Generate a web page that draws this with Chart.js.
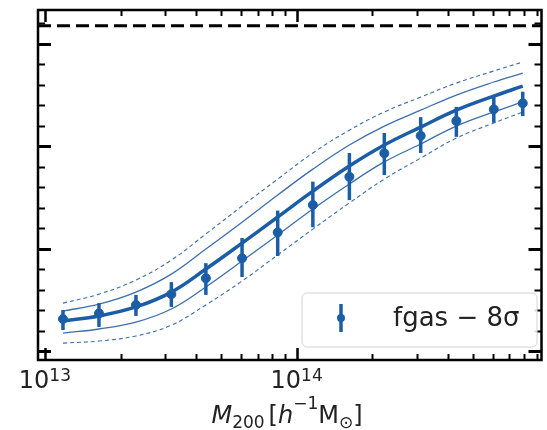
<!DOCTYPE html>
<html>
<head>
<meta charset="utf-8">
<script src="https://cdn.jsdelivr.net/npm/chart.js@4.4.1/dist/chart.umd.min.js"></script>
<style>
  html, body { margin: 0; padding: 0; background: #fff; }
  #wrap { width: 547px; height: 430px; }
</style>
</head>
<body>
<div id="wrap"><canvas id="fgasChart" width="547" height="430"></canvas></div>
<script>
// halo mass bins [h^-1 Msun]
const massBins = [1.18e13, 1.64e13, 2.30e13, 3.18e13, 4.36e13, 6.07e13, 8.41e13,
                  1.16e14, 1.62e14, 2.23e14, 3.11e14, 4.31e14, 6.07e14, 7.91e14];
// measured points with error bars
const fgasPoints  = [0.0525, 0.0547, 0.0580, 0.0622, 0.0684, 0.0762, 0.0863, 0.0970, 0.1080, 0.1172, 0.1240, 0.1298, 0.1343, 0.1367];
const fgasErrHigh = [0.0560, 0.0587, 0.0619, 0.0669, 0.0743, 0.0841, 0.0948, 0.1061, 0.1173, 0.1251, 0.1313, 0.1353, 0.1395, 0.1412];
const fgasErrLow  = [0.0482, 0.0494, 0.0537, 0.0572, 0.0619, 0.0689, 0.0771, 0.0883, 0.0989, 0.1087, 0.1173, 0.1236, 0.1291, 0.1317];
// model curves
const modelMean   = [0.0517, 0.0537, 0.0572, 0.0630, 0.0720, 0.0821, 0.0923, 0.1024, 0.1122, 0.1204, 0.1274, 0.1340, 0.1395, 0.1434];
const model1sUp   = [0.0556, 0.0583, 0.0630, 0.0700, 0.0798, 0.0903, 0.1009, 0.1110, 0.1204, 0.1278, 0.1340, 0.1399, 0.1450, 0.1485];
const model1sLow  = [0.0470, 0.0486, 0.0513, 0.0564, 0.0650, 0.0751, 0.0853, 0.0954, 0.1052, 0.1138, 0.1208, 0.1278, 0.1333, 0.1372];
const model2sUp   = [0.0587, 0.0622, 0.0677, 0.0755, 0.0857, 0.0966, 0.1071, 0.1173, 0.1262, 0.1333, 0.1391, 0.1446, 0.1493, 0.1528];
const model2sLow  = [0.0431, 0.0439, 0.0459, 0.0501, 0.0580, 0.0673, 0.0775, 0.0876, 0.0978, 0.1071, 0.1153, 0.1231, 0.1290, 0.1333];
const baryonFraction = 0.167;

// axes
const xRange = [9.39e12, 9.39e14];
const yRange = [0.0365, 0.1731];
const xMajorTicks = [1e13, 1e14];
const xTickExponents = ['13', '14'];
const yMajorTicks = [0.04, 0.08, 0.12, 0.16];
const yMinorStep = 0.008;
const legendLabel = 'fgas \u2212 8\u03c3';

const BLUE = '#1b5ea7';
const THIN = '#3c6fae';
const FONT = '"DejaVu Sans", sans-serif';

function pairs(ys) {
    return massBins.map((m, i) => ({ x: m, y: ys[i] }));
}

function curve(ys, width, color, dash) {
    return {
        type: 'line',
        data: pairs(ys),
        borderColor: color,
        borderWidth: width,
        borderDash: dash || [],
        pointRadius: 0,
        fill: false,
        tension: 0.4,
        order: 2
    };
}

const errorBars = {
    id: 'errorBars',
    afterDatasetsDraw(chart) {
        const ctx = chart.ctx;
        const xs = chart.scales.x, ys = chart.scales.y;
        ctx.save();
        ctx.strokeStyle = BLUE;
        ctx.lineWidth = 3.5;
        massBins.forEach((m, i) => {
            const px = xs.getPixelForValue(m);
            ctx.beginPath();
            ctx.moveTo(px, ys.getPixelForValue(fgasErrLow[i]));
            ctx.lineTo(px, ys.getPixelForValue(fgasErrHigh[i]));
            ctx.stroke();
        });
        ctx.restore();
    }
};

function drawPower(ctx, cx, baseY, exp) {
    ctx.font = '24px ' + FONT;
    const w1 = ctx.measureText('10').width;
    ctx.font = '17px ' + FONT;
    const w2 = ctx.measureText(exp).width;
    const x0 = cx - (w1 + w2) / 2;
    ctx.textAlign = 'left';
    ctx.textBaseline = 'alphabetic';
    ctx.font = '24px ' + FONT;
    ctx.fillText('10', x0, baseY);
    ctx.font = '17px ' + FONT;
    ctx.fillText(exp, x0 + w1, baseY - 7);
}

function drawTitle(ctx, cx, baseY) {
    const parts = [
        { t: 'M', f: 'italic 24px ' + FONT, dy: 0 },
        { t: '200', f: '17px ' + FONT, dy: 5 },
        { t: '', f: '24px ' + FONT, dy: 0, gap: 4 },
        { t: '[', f: '24px ' + FONT, dy: 0 },
        { t: 'h', f: 'italic 24px ' + FONT, dy: 0 },
        { t: '\u22121', f: '17px ' + FONT, dy: -14 },
        { t: 'M', f: '24px ' + FONT, dy: 0 },
        { t: '\u2299', f: '17px ' + FONT, dy: 5 },
        { t: ']', f: '24px ' + FONT, dy: 0 }
    ];
    let total = 0;
    parts.forEach(p => {
        ctx.font = p.f;
        p.w = ctx.measureText(p.t).width + (p.gap || 0);
        total += p.w;
    });
    let x = cx - total / 2;
    ctx.textAlign = 'left';
    ctx.textBaseline = 'alphabetic';
    parts.forEach(p => {
        ctx.font = p.f;
        ctx.fillText(p.t, x, baseY + p.dy);
        x += p.w;
    });
}

const frame = {
    id: 'frame',
    afterDraw(chart) {
        const ctx = chart.ctx;
        const a = chart.chartArea;
        const xs = chart.scales.x, ys = chart.scales.y;
        ctx.save();
        ctx.strokeStyle = '#000';
        ctx.fillStyle = '#000';

        // x ticks, top and bottom, pointing in
        const xTicks = [];
        for (let d = 12; d <= 14; d++) {
            for (let k = 1; k <= 9; k++) {
                const v = k * Math.pow(10, d);
                if (v >= xRange[0] && v <= xRange[1]) xTicks.push({ v, major: k === 1 });
            }
        }
        xTicks.forEach(t => {
            const px = Math.round(xs.getPixelForValue(t.v)) + 0.5;
            const len = t.major ? 12 : 6;
            ctx.lineWidth = t.major ? 2.5 : 2;
            ctx.beginPath();
            ctx.moveTo(px, a.bottom); ctx.lineTo(px, a.bottom - len);
            ctx.moveTo(px, a.top); ctx.lineTo(px, a.top + len);
            ctx.stroke();
        });

        // y ticks, left and right
        const y0 = Math.ceil(yRange[0] / yMinorStep) * yMinorStep;
        for (let v = y0; v <= yRange[1] + 1e-9; v += yMinorStep) {
            const major = yMajorTicks.some(m => Math.abs(m - v) < 1e-6);
            const py = Math.round(ys.getPixelForValue(v)) + 0.5;
            const len = major ? 13 : 7;
            ctx.lineWidth = major ? 3 : 2;
            ctx.beginPath();
            ctx.moveTo(a.left, py); ctx.lineTo(a.left + len, py);
            ctx.moveTo(a.right, py); ctx.lineTo(a.right - len, py);
            ctx.stroke();
        }

        // spines
        ctx.lineWidth = 2.5;
        ctx.strokeRect(a.left, a.top, a.right - a.left, a.bottom - a.top);

        // tick labels
        ctx.fillStyle = '#222';
        xMajorTicks.forEach((v, i) => drawPower(ctx, xs.getPixelForValue(v), 388, xTickExponents[i]));
        drawTitle(ctx, 287, 423);

        // legend
        const lx = 302, ly = 293, lw = 235, lh = 54, r = 5;
        ctx.beginPath();
        ctx.roundRect(lx, ly, lw, lh, r);
        ctx.fillStyle = 'rgba(255,255,255,0.85)';
        ctx.fill();
        ctx.lineWidth = 1;
        ctx.strokeStyle = '#d3d3d3';
        ctx.stroke();
        ctx.strokeStyle = BLUE;
        ctx.fillStyle = BLUE;
        ctx.lineWidth = 3.5;
        ctx.beginPath();
        ctx.moveTo(341, 304); ctx.lineTo(341, 332);
        ctx.stroke();
        ctx.beginPath();
        ctx.arc(341, 318, 4, 0, Math.PI * 2);
        ctx.fill();
        ctx.fillStyle = '#222';
        ctx.font = '26px ' + FONT;
        ctx.textAlign = 'left';
        ctx.textBaseline = 'alphabetic';
        ctx.fillText(legendLabel, 393, 326);
        ctx.restore();
    }
};

new Chart(document.getElementById('fgasChart'), {
    type: 'scatter',
    data: {
        datasets: [
            {
                type: 'line',
                data: [{ x: xRange[0], y: baryonFraction }, { x: xRange[1], y: baryonFraction }],
                borderColor: '#000',
                borderWidth: 3,
                borderDash: [13, 6],
                pointRadius: 0,
                order: 3
            },
            curve(model2sUp, 1.1, THIN, [4, 3]),
            curve(model2sLow, 1.1, THIN, [4, 3]),
            curve(model1sUp, 1.3, THIN),
            curve(model1sLow, 1.3, THIN),
            curve(modelMean, 3.5, BLUE),
            {
                label: legendLabel,
                data: pairs(fgasPoints),
                backgroundColor: BLUE,
                borderColor: BLUE,
                pointRadius: 4.5,
                pointHoverRadius: 4.5,
                order: 1
            }
        ]
    },
    options: {
        responsive: false,
        animation: false,
        layout: { padding: { left: 38, right: 1, top: 10, bottom: 70 } },
        plugins: { legend: { display: false }, tooltip: { enabled: false } },
        scales: {
            x: { type: 'logarithmic', min: xRange[0], max: xRange[1], display: false },
            y: { type: 'linear', min: yRange[0], max: yRange[1], display: false }
        }
    },
    plugins: [errorBars, frame]
});
</script>
</body>
</html>
